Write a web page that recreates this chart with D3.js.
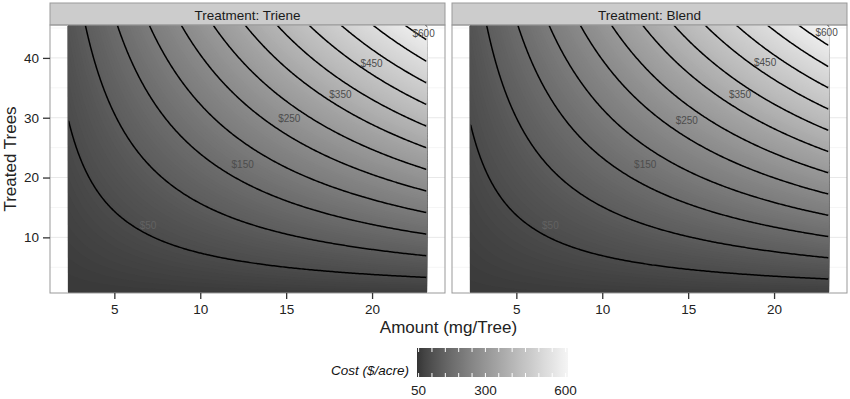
<!DOCTYPE html>
<html>
<head>
<meta charset="utf-8">
<script src="https://cdn.jsdelivr.net/npm/d3@7"></script>
<style>
  body { margin: 0; background: #fff; }
  text { font-family: "Liberation Sans", Arial, Helvetica, sans-serif; }
</style>
</head>
<body>
<div id="chart"></div>
<script>
// facets
var treatments = ["Triene", "Blend"];

var amountNodes = [2.3, 5, 10, 15, 20, 23.2];
var treeNodes = [0.7, 10, 20, 30, 40, 45.5];

// cost ($/acre), rows = treeNodes, columns = amountNodes
var trieneCost = [
  [7.3, 8.2, 9.7, 11.3, 12.9, 13.9],
  [20.9, 36.6, 65.8, 95.0, 124.2, 142.8],
  [35.5, 67.3, 126.1, 185.0, 243.8, 281.5],
  [50.1, 97.9, 186.4, 275.0, 363.5, 420.1],
  [64.8, 128.6, 246.7, 365.0, 483.1, 558.7],
  [72.8, 145.4, 279.9, 414.5, 548.9, 635.0]
];
var blendCost = [
  [8.9, 10.0, 11.9, 13.9, 15.8, 17.1],
  [22.3, 38.6, 68.7, 98.8, 129.0, 148.3],
  [36.6, 69.3, 129.7, 190.2, 250.6, 289.3],
  [51.0, 100.0, 190.8, 281.5, 372.3, 430.4],
  [65.4, 130.8, 251.8, 372.9, 493.9, 571.4],
  [73.3, 147.7, 285.4, 423.2, 560.9, 649.0]
];

var contourLevels = [50, 100, 150, 200, 250, 300, 350, 400, 450, 500, 550, 600];

// contour labels
var labelLevels = [50, 150, 250, 350, 450, 600];
var trieneLabelAmount = [6.96, 12.47, 15.18, 18.16, 19.97, 23.0];
var trieneLabelTrees = [12.0, 22.1, 29.9, 33.9, 39.1, 44.0];
var blendLabelAmount = [6.98, 12.5, 14.92, 18.02, 19.48, 23.06];
var blendLabelTrees = [12.0, 22.1, 29.6, 33.8, 39.3, 44.2];

var xTicks = [5, 10, 15, 20];
var yTicks = [10, 20, 30, 40];
var yMinor = [5, 15, 25, 35, 45];
var legendTicks = [50, 100, 150, 200, 250, 300, 350, 400, 450, 500, 550, 600];
var legendLabels = [50, 300, 600];

var surfaces = [trieneCost, blendCost];
var labelAmounts = [trieneLabelAmount, blendLabelAmount];
var labelTrees = [trieneLabelTrees, blendLabelTrees];

var W = 850, H = 399;
var panelW = 395, gap = 7, panelTop = 25, panelBottom = 293, stripTop = 3;
var left0 = 50;

var a0 = amountNodes[0], a1 = amountNodes[amountNodes.length - 1];
var t0 = treeNodes[0], t1 = treeNodes[treeNodes.length - 1];
var pad = (a1 - a0) * 0.05;

var color = d3.scalePow().exponent(0.78).domain([0, 640])
  .range(["#343434", "#f5f5f5"]).interpolate(d3.interpolateLab).clamp(true);

var svg = d3.select("#chart").append("svg")
  .attr("width", W).attr("height", H);
var defs = svg.append("defs");

var nx = 210, ny = 224;

function costAt(grid, a, t) {
  var i = Math.min(Math.max(d3.bisectRight(amountNodes, a) - 1, 0), amountNodes.length - 2);
  var j = Math.min(Math.max(d3.bisectRight(treeNodes, t) - 1, 0), treeNodes.length - 2);
  var u = (a - amountNodes[i]) / (amountNodes[i + 1] - amountNodes[i]);
  var v = (t - treeNodes[j]) / (treeNodes[j + 1] - treeNodes[j]);
  return grid[j][i] * (1 - u) * (1 - v) + grid[j][i + 1] * u * (1 - v) +
    grid[j + 1][i] * (1 - u) * v + grid[j + 1][i + 1] * u * v;
}

// keep only the parts of a ring that are not on the grid border
function isolines(values, level) {
  var c = d3.contours().size([nx, ny]).thresholds([level])(values)[0];
  var out = [];
  c.coordinates.forEach(function(poly) {
    poly.forEach(function(ring) {
      var cur = null;
      for (var s = 0; s < ring.length - 1; s++) {
        var p = ring[s], q = ring[s + 1];
        var edge = (p[0] <= 0 && q[0] <= 0) || (p[0] >= nx && q[0] >= nx) ||
          (p[1] <= 0 && q[1] <= 0) || (p[1] >= ny && q[1] >= ny);
        if (edge) { cur = null; continue; }
        if (!cur) { cur = [p]; out.push(cur); }
        cur.push(q);
      }
    });
  });
  return out;
}

treatments.forEach(function(name, k) {
  var px0 = left0 + k * (panelW + gap);
  var x = d3.scaleLinear().domain([a0 - pad, a1 + pad]).range([px0, px0 + panelW]);
  var y = d3.scaleLinear().domain([t0, t1]).range([panelBottom, panelTop]);
  var g = svg.append("g");

  // strip
  g.append("rect")
    .attr("x", px0).attr("y", stripTop)
    .attr("width", panelW).attr("height", panelTop - stripTop)
    .attr("fill", "#cccccc").attr("stroke", "#999").attr("stroke-width", 1);
  g.append("text")
    .attr("x", px0 + panelW / 2).attr("y", 19.5)
    .attr("text-anchor", "middle").attr("font-size", 13.5).attr("fill", "#1a1a1a")
    .text("Treatment: " + name);

  // grid
  g.selectAll(".minor").data(yMinor).enter().append("line")
    .attr("x1", px0).attr("x2", px0 + panelW)
    .attr("y1", function(d) { return y(d); }).attr("y2", function(d) { return y(d); })
    .attr("stroke", "#f5f5f5").attr("stroke-width", 1);
  g.selectAll(".major").data(yTicks).enter().append("line")
    .attr("x1", px0).attr("x2", px0 + panelW)
    .attr("y1", function(d) { return y(d); }).attr("y2", function(d) { return y(d); })
    .attr("stroke", "#e8e8e8").attr("stroke-width", 1);

  // sampled surface
  var grid = surfaces[k];
  var values = new Array(nx * ny);
  for (var j = 0; j < ny; j++) {
    for (var i = 0; i < nx; i++) {
      var a = a0 + (i + 0.5) * (a1 - a0) / nx;
      var t = t0 + (j + 0.5) * (t1 - t0) / ny;
      values[i + j * nx] = costAt(grid, a, t);
    }
  }
  var toPx = function(p) {
    return [x(a0 + p[0] * (a1 - a0) / nx), y(t0 + p[1] * (t1 - t0) / ny)];
  };
  var proj = d3.geoTransform({
    point: function(px, py) {
      var q = toPx([px, py]);
      this.stream.point(q[0], q[1]);
    }
  });
  var path = d3.geoPath(proj);

  // raster as thin filled bands
  var bands = d3.contours().size([nx, ny]).thresholds(d3.range(0, 660, 4))(values);
  g.append("g").selectAll("path").data(bands).enter().append("path")
    .attr("d", path)
    .attr("fill", function(d) { return color(d.value + 2); });

  // contour lines, clipped just inside the raster
  var cid = "clip" + k;
  defs.append("clipPath").attr("id", cid).append("rect")
    .attr("x", x(a0) + 0.8).attr("y", y(t1) + 0.8)
    .attr("width", x(a1) - x(a0) - 1.6).attr("height", y(t0) - y(t1) - 1.6);
  var line = d3.line().x(function(p) { return toPx(p)[0]; }).y(function(p) { return toPx(p)[1]; });
  var lg = g.append("g").attr("clip-path", "url(#" + cid + ")");
  contourLevels.forEach(function(level) {
    isolines(values, level).forEach(function(pts) {
      lg.append("path").attr("d", line(pts))
        .attr("fill", "none").attr("stroke", "#000")
        .attr("stroke-width", 1.5).attr("stroke-linecap", "round");
    });
  });

  // contour labels
  g.selectAll(".clab").data(labelLevels).enter().append("text")
    .attr("x", function(d, i) { return x(labelAmounts[k][i]); })
    .attr("y", function(d, i) { return y(labelTrees[k][i]); })
    .attr("dy", "0.35em")
    .attr("text-anchor", "middle").attr("font-size", 10)
    .attr("fill", function(d) { return d < 100 ? "#626262" : "#4d4d4d"; })
    .text(function(d) { return "$" + d; });

  // panel border
  g.append("rect")
    .attr("x", px0).attr("y", panelTop)
    .attr("width", panelW).attr("height", panelBottom - panelTop)
    .attr("fill", "none").attr("stroke", "#999").attr("stroke-width", 1);

  // x axis
  var xa = g.append("g").attr("transform", "translate(0," + panelBottom + ")")
    .call(d3.axisBottom(x).tickValues(xTicks).tickSize(6).tickPadding(5));
  xa.select(".domain").remove();
  xa.selectAll("line").attr("stroke", "#333").attr("stroke-width", 1.3);
  xa.selectAll("text").attr("font-size", 13.5).attr("fill", "#222")
    .attr("font-family", "Liberation Sans, Arial, sans-serif");

  if (k === 0) {
    var ya = g.append("g").attr("transform", "translate(" + px0 + ",0)")
      .call(d3.axisLeft(y).tickValues(yTicks).tickSize(7).tickPadding(4));
    ya.select(".domain").remove();
    ya.selectAll("line").attr("stroke", "#333").attr("stroke-width", 1.3);
    ya.selectAll("text").attr("font-size", 13.5).attr("fill", "#222")
      .attr("font-family", "Liberation Sans, Arial, sans-serif");
  }
});

// axis titles
svg.append("text")
  .attr("x", 448.5).attr("y", 333)
  .attr("text-anchor", "middle").attr("font-size", 17).attr("fill", "#222")
  .text("Amount (mg/Tree)");
svg.append("text")
  .attr("transform", "translate(16," + (panelTop + panelBottom) / 2 + ") rotate(-90)")
  .attr("text-anchor", "middle").attr("font-size", 17).attr("fill", "#222")
  .text("Treated Trees");

// legend
var legX = d3.scaleLinear().domain([44, 609]).range([417, 568]);
var barTop = 348, barH = 29;
var grad = defs.append("linearGradient").attr("id", "costgrad");
d3.range(0, 1.0001, 0.05).forEach(function(f) {
  grad.append("stop").attr("offset", f)
    .attr("stop-color", color(f * 640));
});
svg.append("rect")
  .attr("x", legX.range()[0]).attr("y", barTop)
  .attr("width", legX.range()[1] - legX.range()[0]).attr("height", barH)
  .attr("fill", "url(#costgrad)");
svg.selectAll(".lt1").data(legendTicks).enter().append("line")
  .attr("x1", function(d) { return legX(d); }).attr("x2", function(d) { return legX(d); })
  .attr("y1", barTop).attr("y2", barTop + 4)
  .attr("stroke", "#fff").attr("stroke-width", 1);
svg.selectAll(".lt2").data(legendTicks).enter().append("line")
  .attr("x1", function(d) { return legX(d); }).attr("x2", function(d) { return legX(d); })
  .attr("y1", barTop + barH - 4).attr("y2", barTop + barH)
  .attr("stroke", "#fff").attr("stroke-width", 1);
svg.selectAll(".ll").data(legendLabels).enter().append("text")
  .attr("x", function(d) { return legX(d); }).attr("y", 395)
  .attr("text-anchor", "middle").attr("font-size", 13.5).attr("fill", "#222")
  .text(function(d) { return d; });
svg.append("text")
  .attr("x", 409).attr("y", 375)
  .attr("text-anchor", "end").attr("font-size", 13.5).attr("font-style", "italic")
  .attr("fill", "#111")
  .text("Cost ($/acre)");
</script>
</body>
</html>
